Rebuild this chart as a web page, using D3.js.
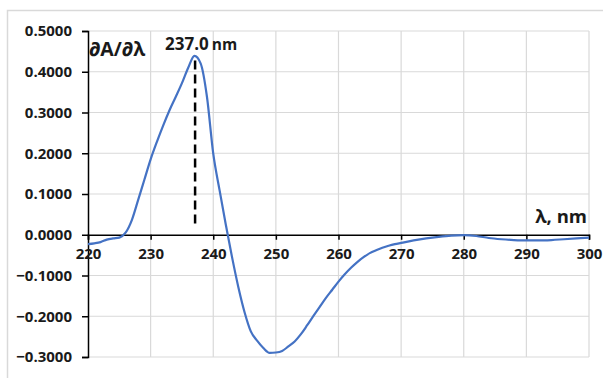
<!DOCTYPE html>
<html lang="en">
<head>
    <meta charset="UTF-8">
    <title>Derivative spectrum</title>
    <script src="https://d3js.org/d3.v7.min.js"></script>
    <style>
        body { margin: 0; background: #fff; }
        svg text { font-family: "Open Sans", "Liberation Sans", sans-serif; font-weight: bold; fill: #1a1a1a; }
    </style>
    <script>
        // wavelength (nm) and first derivative dA/dλ
        const wavelengths = [220, 221, 222, 223, 224, 225, 226, 227, 228, 229, 230, 231, 232, 233, 234, 235, 236, 237, 238, 239,
            240, 241, 242, 243, 244, 245, 246, 247, 248, 249, 250, 251, 252, 253, 254, 255, 256, 257, 258, 259,
            260, 261, 262, 263, 264, 265, 266, 267, 268, 269, 270, 272, 274, 276, 278, 280, 282, 284, 286, 288,
            290, 292, 294, 296, 298, 300];
        const derivative = [-0.023, -0.021, -0.018, -0.012, -0.009, -0.007, 0.005, 0.036, 0.085, 0.135, 0.185, 0.228, 0.268, 0.305, 0.338, 0.372, 0.410, 0.439, 0.420, 0.338,
            0.199, 0.110, 0.025, -0.055, -0.128, -0.190, -0.237, -0.260, -0.278, -0.290, -0.289, -0.285, -0.274, -0.262, -0.244, -0.222, -0.199, -0.177, -0.155, -0.135,
            -0.115, -0.097, -0.081, -0.067, -0.055, -0.045, -0.038, -0.032, -0.027, -0.023, -0.020, -0.014, -0.009, -0.005, -0.002, -0.001, -0.003, -0.008, -0.011, -0.013,
            -0.014, -0.014, -0.013, -0.011, -0.009, -0.007];

        const xTicks = [220, 230, 240, 250, 260, 270, 280, 290, 300];
        const yTicks = [0.5, 0.4, 0.3, 0.2, 0.1, 0, -0.1, -0.2, -0.3];
        const peakX = 237.1;
        const peakY = 0.440;

        document.addEventListener("DOMContentLoaded", () => makeGraph());

        function makeGraph() {
            const svg = d3.select("svg").attr("width", 603).attr("height", 378);

            // chart frame
            svg.append("rect").attr("x", 7.5).attr("y", 10.5).attr("width", 620).attr("height", 400)
                .attr("fill", "none").attr("stroke", "#d9d9d9").attr("stroke-width", 1.5);

            const x = d3.scaleLinear().domain([220, 300]).range([88, 589]);
            const y = d3.scaleLinear().domain([-0.3, 0.5]).range([357, 31]);

            // grid
            svg.append("g").selectAll("line").data(xTicks.slice(1)).enter().append("line")
                .attr("x1", d => x(d)).attr("x2", d => x(d)).attr("y1", y(0.5)).attr("y2", y(-0.3))
                .attr("stroke", "#d9d9d9").attr("stroke-width", 1.2);
            svg.append("g").selectAll("line").data(yTicks.filter(d => d !== 0)).enter().append("line")
                .attr("x1", x(220)).attr("x2", x(300)).attr("y1", d => y(d)).attr("y2", d => y(d))
                .attr("stroke", "#d9d9d9").attr("stroke-width", 1.2);

            // y axis
            const yAxis = svg.append("g").attr("transform", `translate(${x(220)},0)`)
                .call(d3.axisLeft(y).tickValues(yTicks).tickSize(6).tickPadding(10).tickFormat(d3.format(".4f")));
            yAxis.select(".domain").attr("stroke", "#000").attr("stroke-width", 1.5);
            yAxis.selectAll(".tick line").attr("stroke", "#000").attr("stroke-width", 1.5);
            yAxis.selectAll("text").style("font-size", "15px");

            // x axis at zero
            const xAxis = svg.append("g").attr("transform", `translate(0,${y(0)})`)
                .call(d3.axisBottom(x).tickValues(xTicks).tickSize(5).tickPadding(9));
            xAxis.select(".domain").attr("stroke", "#000").attr("stroke-width", 1.5);
            xAxis.selectAll(".tick line").attr("stroke", "#000").attr("stroke-width", 1.5);
            xAxis.selectAll("text").style("font-size", "15px");

            // peak marker
            svg.append("line").attr("x1", x(peakX)).attr("x2", x(peakX))
                .attr("y1", y(peakY) + 5).attr("y2", y(0) - 7)
                .attr("stroke", "#000").attr("stroke-width", 2.5).attr("stroke-dasharray", "9,5");

            // curve
            const line = d3.line().x((d, i) => x(wavelengths[i])).y(d => y(d)).curve(d3.curveMonotoneX);
            svg.append("path").datum(derivative).attr("d", line)
                .attr("fill", "none").attr("stroke", "#4472c4").attr("stroke-width", 2.2);

            // labels
            svg.append("text").attr("x", 89).attr("y", 56).style("font-size", "19.5px").text("∂A/∂λ");
            const peakLabel = svg.append("text").attr("x", 165).attr("y", 50);
            peakLabel.append("tspan").style("font-size", "17px").text("237.0");
            peakLabel.append("tspan").attr("dx", 3).style("font-size", "15.5px").text("nm");
            svg.append("text").attr("x", 587).attr("y", 223).attr("text-anchor", "end")
                .style("font-size", "18.5px").text("λ, nm");
        }
    </script>
</head>
<body>
    <svg></svg>
</body>
</html>
